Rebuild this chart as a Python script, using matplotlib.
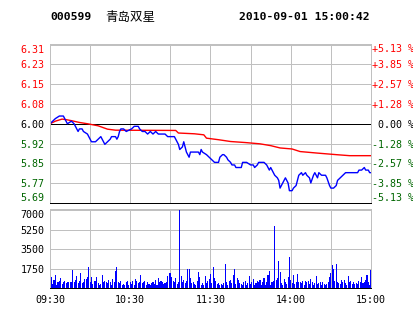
import matplotlib
matplotlib.use("Agg")
import matplotlib.pyplot as plt
import numpy as np

# intraday price (minutes after 09:30, lunch break removed)
price_min = [0, 4, 7, 10, 12, 13, 16, 18, 19, 21, 22, 24, 25, 28, 30, 31, 34, 36, 38, 39,
             40, 41, 43, 45, 46, 49, 50, 51, 52, 53, 55, 57, 61, 63, 66, 67, 69, 71, 73, 75,
             77, 79, 81, 84, 86, 88, 90, 91, 93, 95, 96, 97, 99, 100, 101, 102, 104, 105, 107, 108,
             110, 111, 112, 113, 114, 117, 119, 121, 123, 126, 127, 129, 130, 132, 133, 135, 136, 138, 139, 141,
             143, 144, 146, 147, 150, 152, 153, 155, 156, 158, 160, 162, 164, 165, 167, 168, 170, 171, 172, 173,
             175, 176, 178, 179, 181, 182, 184, 185, 186, 188, 189, 191, 192, 194, 195, 197, 198, 200, 201, 203,
             204, 206, 207, 209, 210, 212, 214, 215, 217, 219, 221, 224, 227, 230, 231, 233, 235, 236, 238, 239,
             240]
price = [6.00, 6.02, 6.03, 6.03, 6.01, 6.00, 6.01, 6.00, 5.99, 5.97, 5.98, 5.98, 5.97, 5.96, 5.94, 5.93, 5.93, 5.94, 5.95, 5.94,
         5.93, 5.92, 5.93, 5.94, 5.95, 5.95, 5.94, 5.95, 5.97, 5.98, 5.98, 5.97, 5.98, 5.99, 5.99, 5.98, 5.97, 5.97, 5.96, 5.97,
         5.96, 5.97, 5.96, 5.96, 5.96, 5.95, 5.95, 5.95, 5.95, 5.93, 5.92, 5.90, 5.91, 5.93, 5.91, 5.89, 5.87, 5.89, 5.89, 5.89,
         5.89, 5.89, 5.88, 5.90, 5.89, 5.88, 5.87, 5.86, 5.85, 5.85, 5.87, 5.88, 5.88, 5.87, 5.86, 5.85, 5.84, 5.84, 5.83, 5.83,
         5.83, 5.85, 5.85, 5.85, 5.84, 5.84, 5.83, 5.84, 5.85, 5.85, 5.85, 5.84, 5.82, 5.83, 5.81, 5.80, 5.79, 5.78, 5.75, 5.76,
         5.78, 5.79, 5.77, 5.74, 5.74, 5.75, 5.76, 5.78, 5.80, 5.81, 5.80, 5.81, 5.80, 5.79, 5.77, 5.80, 5.81, 5.79, 5.81, 5.80,
         5.80, 5.80, 5.79, 5.76, 5.75, 5.75, 5.76, 5.78, 5.79, 5.80, 5.81, 5.81, 5.81, 5.81, 5.82, 5.82, 5.83, 5.82, 5.82, 5.81,
         5.81]

avg_min = [0, 4, 9, 12, 16, 22, 28, 36, 43, 49, 94, 96, 108, 115, 117, 126, 135, 146, 157, 165,
           172, 181, 187, 200, 214, 224, 240]
avg_price = [6.000, 6.010, 6.018, 6.016, 6.012, 6.005, 6.000, 5.992, 5.979, 5.975, 5.974, 5.964, 5.961, 5.957, 5.944,
             5.938, 5.931, 5.927, 5.922, 5.915, 5.906, 5.902, 5.892, 5.886, 5.880, 5.876, 5.876]

# volume per minute (lots)
volume = [240, 960, 360, 750, 1140, 240, 540, 660, 900, 360, 540, 660, 450, 540, 540, 540, 540, 1650, 540, 750,
          1110, 450, 600, 1380, 450, 540, 840, 840, 960, 1920, 540, 960, 360, 660, 600, 960, 450, 300, 360, 1200,
          540, 660, 540, 450, 750, 540, 300, 840, 540, 1500, 1860, 540, 450, 660, 240, 360, 300, 540, 660, 240,
          540, 360, 660, 300, 840, 660, 450, 540, 1200, 450, 540, 660, 300, 540, 360, 240, 450, 540, 360, 750,
          240, 900, 540, 660, 540, 360, 450, 540, 1050, 1380, 1380, 960, 660, 540, 900, 360, 540, 6990, 1050, 540,
          750, 450, 660, 1740, 1740, 900, 450, 540, 360, 240, 660, 1440, 960, 300, 450, 240, 1050, 450, 660, 840,
          1260,
          450, 1860, 900, 660, 360, 450, 300, 360, 240, 450, 2190, 540, 240, 660, 750, 450, 1140, 1740, 360, 900,
          750, 450, 360, 300, 540, 660, 240, 450, 1050, 360, 540, 840, 300, 450, 660, 540, 750, 300, 540, 900,
          240, 540, 1140, 1560, 240, 540, 660, 5550, 750, 900, 2400, 1440, 450, 300, 840, 540, 360, 960, 2760, 750,
          450, 1140, 360, 540, 1260, 540, 540, 450, 660, 300, 660, 540, 660, 360, 840, 540, 240, 450, 1050, 360,
          450, 540, 300, 540, 360, 240, 360, 540, 960, 1350, 2100, 1740, 660, 2190, 540, 450, 360, 750, 540, 750,
          450, 300, 1050, 540, 660, 360, 540, 360, 450, 360, 660, 540, 960, 450, 540, 750, 1200, 540, 240, 1650]

prev_close = 6.00
price_labels = ["6.31", "6.23", "6.15", "6.08", "6.00", "5.92", "5.85", "5.77", "5.69"]
pct_labels = ["+5.13 %", "+3.85 %", "+2.57 %", "+1.28 %", " 0.00 %", "-1.28 %", "-2.57 %", "-3.85 %", "-5.13 %"]
vol_ticks = [1750, 3500, 5250, 7000]
time_ticks = [0, 60, 120, 180, 240]
time_labels = ["09:30", "10:30", "11:30", "14:00", "15:00"]
code, name, stamp = "000599", "青岛双星", "2010-09-01 15:00:42"

RED, GREEN, GRID = "#ff0000", "#006600", "#c0c0c0"
MONO = "DejaVu Sans Mono"
PX = 0.72  # one pixel in points

fig = plt.figure(figsize=(4.14, 3.14), dpi=100)
W, H = 414, 314


def box(l, t, r, b):
    return [l / W, 1 - b / H, (r - l) / W, (b - t) / H]


def style_spines(a):
    for s in ("top", "left", "right"):
        a.spines[s].set_color(GRID)
        a.spines[s].set_linewidth(PX)
    a.spines["bottom"].set_color("black")
    a.spines["bottom"].set_linewidth(PX)


ax = fig.add_axes(box(50, 44.5, 371, 203))
axv = fig.add_axes(box(50, 209, 371, 288))

# price panel
span = prev_close * 0.0513
levels = prev_close + span * np.linspace(1, -1, 9)
ax.set_xlim(0, 240)
ax.set_ylim(prev_close - span, prev_close + span)
for y in levels[1:-1]:
    ax.axhline(y, color=GRID, lw=PX, zorder=0, antialiased=False)
ax.axhline(prev_close, color="black", lw=PX, zorder=1, antialiased=False)
for x in range(30, 240, 30):
    ax.axvline(x, color=GRID, lw=PX, zorder=0, antialiased=False)
    axv.axvline(x, color=GRID, lw=PX, zorder=0, antialiased=False)
ax.plot(avg_min, avg_price, color="#ff0000", lw=1.0, zorder=2)
ax.plot(price_min, price, color="#0000ff", lw=1.0, zorder=3)

colors = [RED] * 4 + ["black"] + [GREEN] * 4
ax.set_yticks(levels)
ax.set_yticklabels(price_labels, family=MONO, fontsize=7.2)
ax.tick_params(axis="y", length=0, pad=4)
ax.set_xticks([])
axr = ax.twinx()
axr.set_ylim(ax.get_ylim())
axr.set_yticks(levels)
axr.set_yticklabels(pct_labels, family=MONO, fontsize=7.2)
axr.tick_params(axis="y", length=0, pad=1)
for a in (ax, axr):
    labs = a.get_yticklabels()
    for lab, c in zip(labs, colors):
        lab.set_color(c)
    labs[0].set_va("top")
    labs[-1].set_va("bottom")
    style_spines(a)

# volume panel
axv.set_xlim(0, 240)
axv.set_ylim(0, 7100)
for y in vol_ticks:
    axv.axhline(y, color=GRID, lw=PX, zorder=0, antialiased=False)
axv.bar(np.arange(len(volume)), volume, width=0.8, color="#0000ff", lw=0,
        zorder=2, antialiased=False)
axv.set_yticks(vol_ticks)
axv.set_yticklabels([str(v) for v in vol_ticks], family=MONO, fontsize=7.2)
axv.get_yticklabels()[-1].set_va("top")
axv.set_xticks(time_ticks)
axv.set_xticklabels(time_labels, family=MONO, fontsize=7.2)
axv.tick_params(length=0, pad=4)
axv.tick_params(axis="x", pad=5)
style_spines(axv)

# header
fig.text(50 / W, 1 - 17 / H, code, family=MONO, weight="bold", fontsize=8.2, va="center")
fig.text(105 / W, 1 - 17 / H, name, family=["Noto Sans CJK SC", "DejaVu Sans"], fontsize=9, va="center")
fig.text(370 / W, 1 - 17 / H, stamp, family=MONO, weight="bold", fontsize=8.2, va="center", ha="right")

fig.savefig("out.png", dpi=100)
